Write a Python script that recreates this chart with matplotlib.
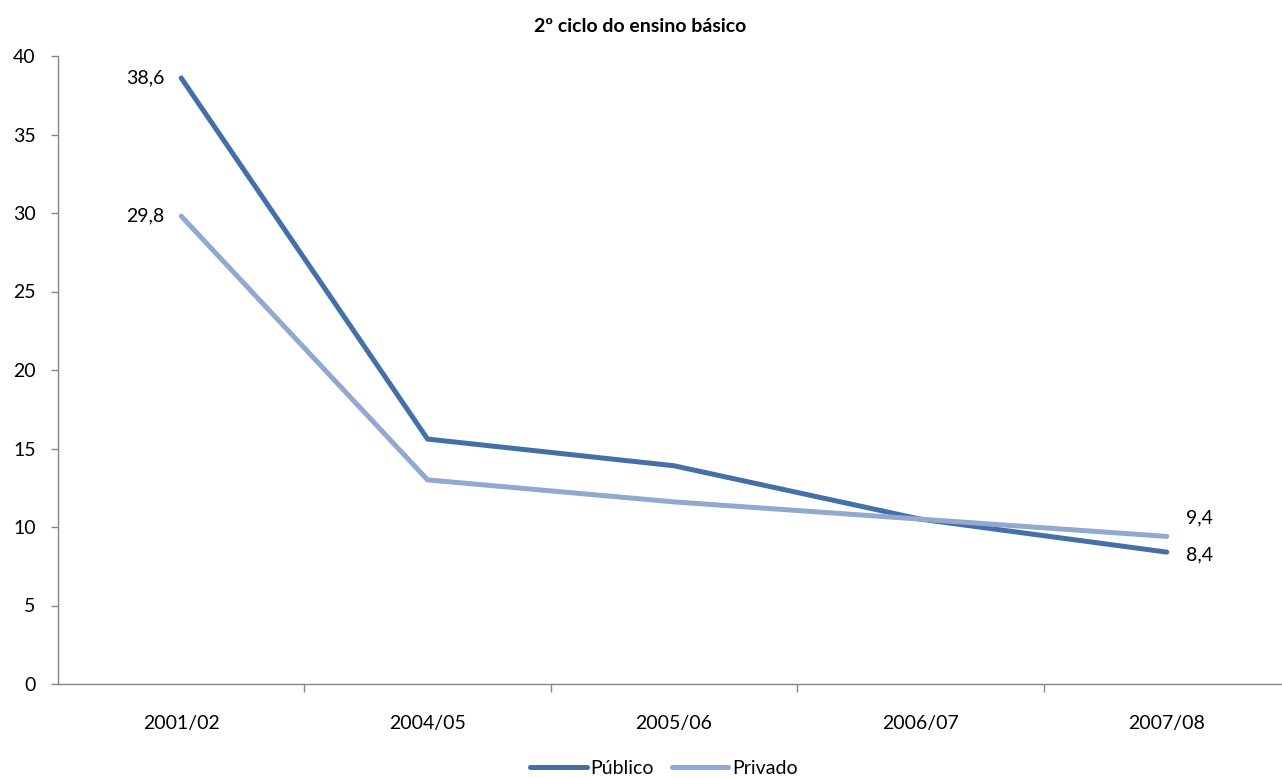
import matplotlib
matplotlib.use("Agg")
import matplotlib.pyplot as plt
from matplotlib.ticker import FixedLocator, NullFormatter

plt.rcParams['font.family'] = ['Lato', 'DejaVu Sans']

categories = ["2001/02", "2004/05", "2005/06", "2006/07", "2007/08"]
publico = [38.6, 15.6, 13.9, 10.5, 8.4]
privado = [29.8, 13.0, 11.6, 10.5, 9.4]
title = "2º ciclo do ensino básico"

c_pub = "#4370A8"
c_priv = "#91A8D0"
FS = 14

fig = plt.figure(figsize=(12.82, 7.78), dpi=100)
W, H = 1282, 778
left, right, top, bottom = 58, 1290, 56, 684
ax = fig.add_axes([left / W, 1 - bottom / H, (right - left) / W, (bottom - top) / H])

x = list(range(len(categories)))
ax.plot(x, publico, color=c_pub, lw=3.6, solid_capstyle='round', solid_joinstyle='miter', label="Público")
ax.plot(x, privado, color=c_priv, lw=3.6, solid_capstyle='round', solid_joinstyle='miter', label="Privado")

ax.set_xlim(-0.5, len(categories) - 0.5)
ax.set_ylim(0, 40)
ax.set_yticks(range(0, 41, 5))
ax.set_xticks(x)
ax.set_xticklabels(categories)
ax.xaxis.set_minor_locator(FixedLocator([i + 0.5 for i in range(len(categories) - 1)]))
ax.xaxis.set_minor_formatter(NullFormatter())
ax.tick_params(axis='x', which='major', length=0, pad=22, labelsize=FS)
ax.tick_params(axis='x', which='minor', length=6, width=1, color='#868686', direction='out')
ax.tick_params(axis='y', length=5, width=1, color='#868686', direction='out', labelsize=FS, pad=11)
for s in ['top', 'right']:
    ax.spines[s].set_visible(False)
for s in ['left', 'bottom']:
    ax.spines[s].set_color('#868686')
    ax.spines[s].set_linewidth(1)

def fmt(v):
    return f"{v:.1f}".replace('.', ',')

ax.annotate(fmt(publico[0]), (0, publico[0]), xytext=(-12, 0), textcoords='offset points',
            ha='right', va='center', fontsize=FS)
ax.annotate(fmt(privado[0]), (0, privado[0]), xytext=(-12, 0), textcoords='offset points',
            ha='right', va='center', fontsize=FS)
ax.annotate(fmt(privado[-1]), (4, privado[-1]), xytext=(14, 13), textcoords='offset points',
            ha='left', va='center', fontsize=FS)
ax.annotate(fmt(publico[-1]), (4, publico[-1]), xytext=(14, -2), textcoords='offset points',
            ha='left', va='center', fontsize=FS)

fig.text(640 / W, 1 - 27 / H, title, ha='center', va='center', fontsize=14, fontweight='bold')

leg = fig.legend(loc='center', bbox_to_anchor=(664 / W, 1 - 768 / H), ncol=2, frameon=False,
                 fontsize=FS, handlelength=2.9, handletextpad=0.2, columnspacing=0.9,
                 borderaxespad=0, borderpad=0)

fig.savefig("out.png", dpi=100)
